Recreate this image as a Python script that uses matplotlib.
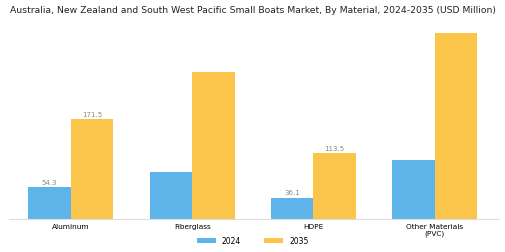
import numpy as np
import matplotlib
matplotlib.use("Agg")
import matplotlib.pyplot as plt

categories = ["Aluminum", "Fiberglass", "HDPE", "Other Materials\n(PVC)"]
values_2024 = [54.3, 81.4, 36.1, 100.5]
values_2035 = [171.5, 253.0, 113.5, 320.6]
labels_2024 = ["54.3", "", "36.1", ""]
labels_2035 = ["171.5", "", "113.5", ""]

fig = plt.figure(figsize=(5.05, 2.53), dpi=100)
ax = fig.add_axes([0.018, 0.132, 0.970, 0.75])

x = np.arange(len(categories))
w = 0.35
b1 = ax.bar(x - w/2, values_2024, w, color="#5DB4E8", label="2024")
b2 = ax.bar(x + w/2, values_2035, w, color="#FBC54B", label="2035")

for bar, lab in zip(b1, labels_2024):
    if lab:
        ax.text(bar.get_x() + bar.get_width()/2, bar.get_height() + 4, lab,
                ha="center", va="bottom", fontsize=5, color="#888888")
for bar, lab in zip(b2, labels_2035):
    if lab:
        ax.text(bar.get_x() + bar.get_width()/2, bar.get_height() + 4, lab,
                ha="center", va="bottom", fontsize=5, color="#888888")

ax.set_xlim(-0.51, 3.53)
ax.set_ylim(0, 328)
ax.set_xticks(x)
ax.set_xticklabels(categories, fontsize=5.3)
ax.tick_params(axis="x", length=0, pad=3)
ax.set_yticks([])
for s in ["top", "right", "left"]:
    ax.spines[s].set_visible(False)
ax.spines["bottom"].set_color("#DDDDDD")
ax.spines["bottom"].set_linewidth(0.8)

fig.text(0.5, 0.958, "Australia, New Zealand and South West Pacific Small Boats Market, By Material, 2024-2035 (USD Million)",
         ha="center", va="center", fontsize=6.7, color="#222222")

fig.legend(loc="center", bbox_to_anchor=(0.5, 0.045), ncol=2, frameon=False,
           fontsize=5.5, handlelength=2.5, handleheight=0.6, columnspacing=3)

fig.savefig("out.png", dpi=100)
